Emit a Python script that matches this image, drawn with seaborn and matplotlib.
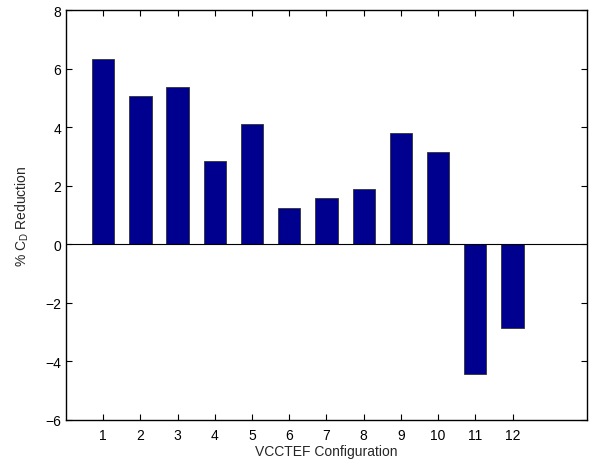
import pandas as pd
import seaborn as sns
import matplotlib.pyplot as plt

# valeurs
configurations = [1, 2, 3, 4, 5, 6, 7, 8, 9, 10, 11, 12]
reduction_cd = [6.32, 5.06, 5.37, 2.84, 4.11, 1.26, 1.59, 1.90, 3.80, 3.16, -4.43, -2.85]

sns.set_theme(style="ticks")
plt.rcParams['font.family'] = ['Liberation Sans', 'DejaVu Sans']

df = pd.DataFrame({"Configuration": configurations, "Reduction": reduction_cd})

fig = plt.figure(figsize=(5.92, 4.64), dpi=100)
ax = fig.add_axes([0.1115, 0.0927, 0.88, 0.883])

sns.barplot(data=df, x="Configuration", y="Reduction", native_scale=True,
            width=0.6, color="#00008F", saturation=1,
            edgecolor="#333333", linewidth=0.6, ax=ax)

# ligne de base a zero
ax.axhline(0, color="black", linewidth=0.8)

ax.set_xlim(0, 14)
ax.set_ylim(-6, 8)
ax.set_xticks(configurations)
ax.set_yticks(range(-6, 9, 2))
ax.set_yticklabels([str(v).replace("-", "\u2212") for v in range(-6, 9, 2)])

ax.set_xlabel("VCCTEF Configuration", fontsize=10, labelpad=1)
ax.set_ylabel(r"% C$_\mathregular{D}$ Reduction", fontsize=10, labelpad=10)

ax.tick_params(direction="in", top=True, right=True, length=4, width=0.8,
               labelsize=10, colors="black")
ax.tick_params(axis="x", pad=6)
for s in ax.spines.values():
    s.set_visible(True)
    s.set_linewidth(1.0)
    s.set_color("black")

fig.savefig("out.png", dpi=100)
